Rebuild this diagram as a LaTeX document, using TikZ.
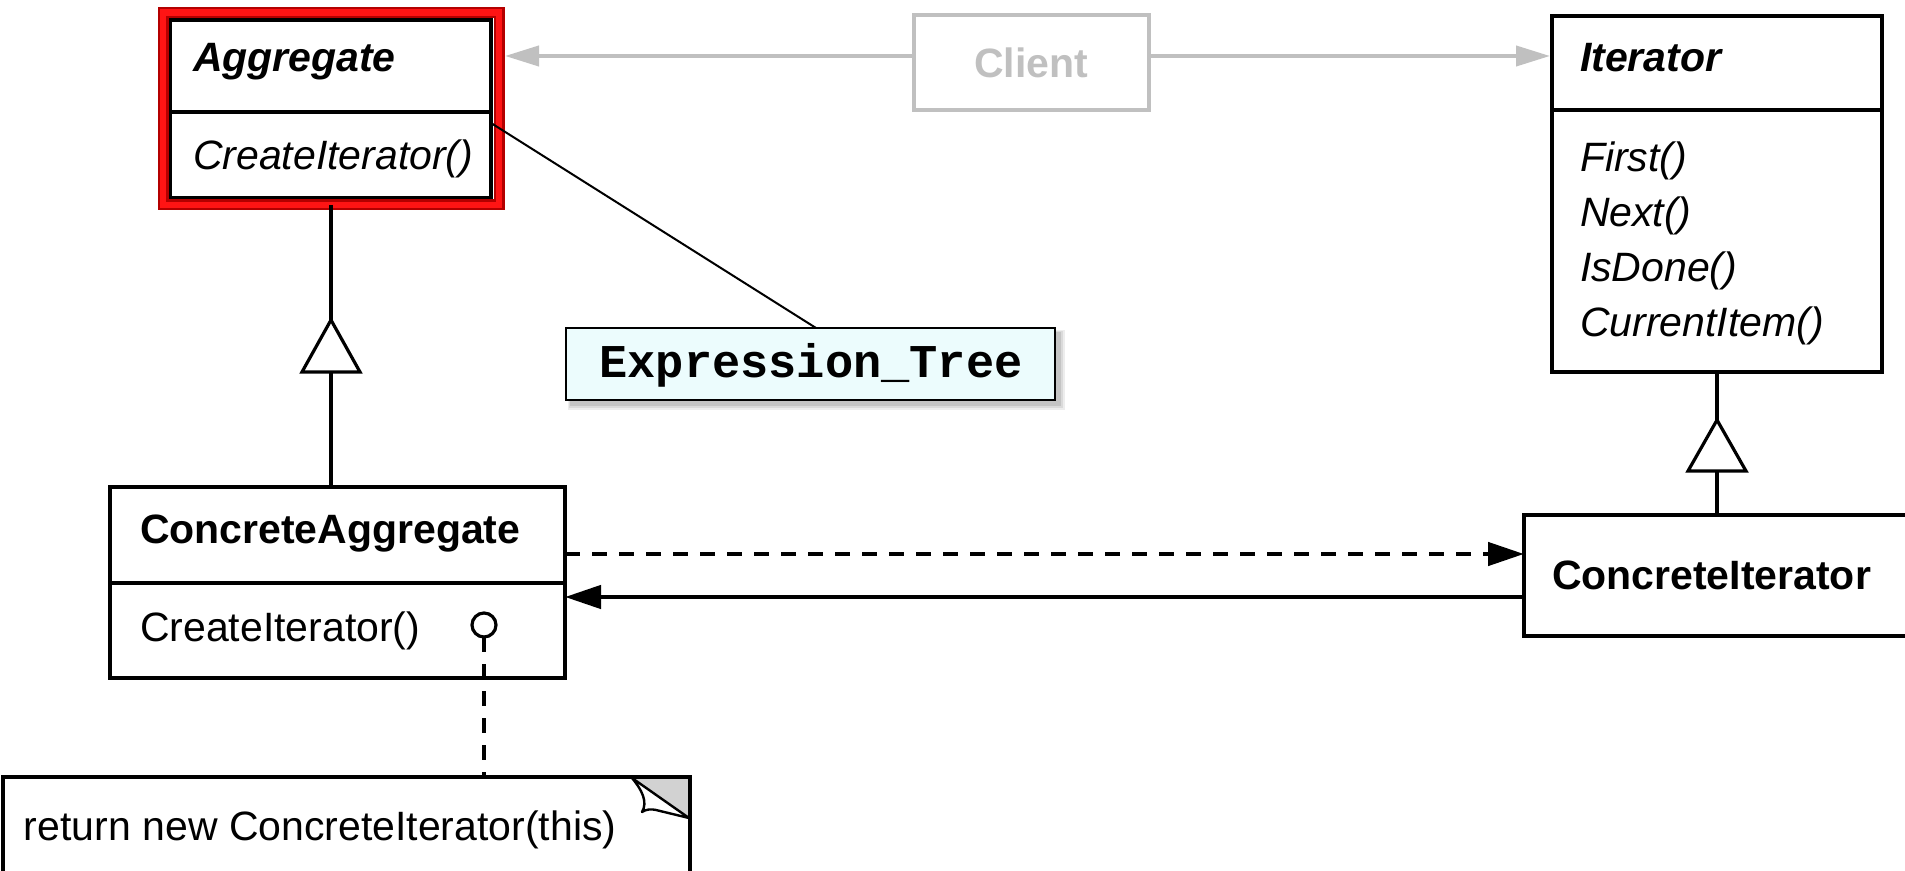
\documentclass[tikz,border=0pt]{standalone}
\usepackage{fontspec}
\setmainfont{Liberation Sans}
\newfontfamily\codefont{Liberation Mono}
\usetikzlibrary{arrows.meta}

\definecolor{clientgray}{RGB}{192,192,192}
\definecolor{notefill}{RGB}{236,252,253}
\definecolor{framered}{RGB}{255,20,20}
\definecolor{framedark}{RGB}{180,0,0}
\definecolor{foldgray}{RGB}{210,210,210}

\begin{document}
\begin{tikzpicture}[x=0.5pt,y=-0.5pt,
  every node/.style={inner sep=0pt,outer sep=0pt},
  classbox/.style={draw,rectangle,line width=2.3pt},
  divider/.style={line width=2.3pt},
  txt/.style={anchor=base west,font=\fontsize{20.5pt}{24pt}\selectfont},
  txtb/.style={anchor=base west,font=\fontsize{20.5pt}{24pt}\selectfont\bfseries},
  txti/.style={anchor=base west,font=\fontsize{20.5pt}{24pt}\selectfont\itshape},
  txtbi/.style={anchor=base west,font=\fontsize{20.5pt}{24pt}\selectfont\bfseries\itshape},
  genline/.style={line width=2.3pt},
  gentri/.style={line width=1.6pt,fill=white,line join=miter},
  grayarrow/.style={draw=clientgray,line width=2pt,-{Triangle[length=17pt,width=10pt]},clientgray},
  blackarrow/.style={line width=2.3pt,-{Triangle[length=18pt,width=11.5pt]}},
  dashline/.style={line width=2.3pt,dash pattern=on 7.5pt off 6pt},
]
\useasboundingbox (0,0) rectangle (1905,871);

% ---------- class boxes ----------
\node[classbox,minimum width=160.5pt,minimum height=89pt] (agg) at (330.5,109) {};
\draw[divider] (agg.west |- 0,112) -- (agg.east |- 0,112);
\node[txtbi] (aggname) at (193,72) {Aggregate};
\node[txti] (aggop) at (193,170) {CreateIterator()};

\node[classbox,minimum width=165pt,minimum height=178pt] (iter) at (1717,194) {};
\draw[divider] (iter.west |- 0,110) -- (iter.east |- 0,110);
\node[txtbi] (itername) at (1580,72) {Iterator};
\node[txti] (iterop1) at (1580,172) {First()};
\node[txti] (iterop2) at (1580,227) {Next()};
\node[txti] (iterop3) at (1580,282) {IsDone()};
\node[txti] (iterop4) at (1580,337) {CurrentItem()};

\node[classbox,minimum width=227.5pt,minimum height=95.5pt] (cagg) at (337.5,582.5) {};
\draw[divider] (cagg.west |- 0,583) -- (cagg.east |- 0,583);
\node[txtb] (caggname) at (140,543) {ConcreteAggregate};
\node[txt] (caggop) at (140,641) {CreateIterator()};

\node[classbox,minimum width=195.5pt,minimum height=60.5pt] (citer) at (1719.5,575.5) {};
\node[txtb] (citername) at (1552,589) {ConcreteIterator};

% ---------- client ----------
\node[draw=clientgray,line width=2pt,minimum width=117.5pt,minimum height=47.5pt,
      text=clientgray,font=\fontsize{20.5pt}{24pt}\selectfont\bfseries] (client) at (1031,63) {Client};

% ---------- highlight frame round Aggregate ----------
\node[draw=framedark,line width=5.5pt,minimum width=168pt,minimum height=96.25pt] (aggframe) at (331,108.75) {};
\draw[framered,line width=3.4pt] (aggframe.north west) rectangle (aggframe.south east);

% ---------- generalisation ----------
\draw[genline] (aggframe.south) -- (aggframe.south |- cagg.north);
\coordinate (t1) at (aggframe.south |- 0,320);
\draw[gentri] (t1) -- ++(29,52) -- ++(-58,0) -- cycle;

\draw[genline] (iter.south) -- (iter.south |- citer.north);
\coordinate (t2) at (iter.south |- 0,420);
\draw[gentri] (t2) -- ++(29,51) -- ++(-58,0) -- cycle;

% ---------- client associations ----------
\draw[grayarrow] ([yshift=3.5pt]client.west) -- ([xshift=3pt,yshift=3.5pt]client.west -| aggframe.east);
\draw[grayarrow] ([yshift=3.5pt]client.east) -- ([xshift=-1pt,yshift=3.5pt]client.east -| iter.west);

% ---------- concrete associations ----------
\draw[blackarrow,dash pattern=on 7.5pt off 6pt] (cagg.east |- 0,554) -- (citer.west |- 0,554);
\draw[blackarrow] (citer.west |- 0,597) -- (cagg.east |- 0,597);

% ---------- Expression_Tree label with soft shadow ----------
\coordinate (exprnw) at (566,328);
\coordinate (exprse) at (1055,400);
\fill[black,opacity=0.07] ([shift={(1pt,-1pt)}]exprnw) rectangle ([shift={(5pt,-5pt)}]exprse);
\fill[black,opacity=0.08] ([shift={(1.5pt,-1.5pt)}]exprnw) rectangle ([shift={(4pt,-4pt)}]exprse);
\fill[black,opacity=0.10] ([shift={(2pt,-2pt)}]exprnw) rectangle ([shift={(3pt,-3pt)}]exprse);
\node[draw,fill=notefill,line width=1.25pt,minimum width=244.5pt,minimum height=36pt] (exprt) at (810.5,364) {};
\node[anchor=base,font=\codefont\bfseries\fontsize{23.5pt}{26pt}\selectfont] (exprtext) at (811,378) {Expression\_Tree};
\draw[line width=1pt] ([xshift=2.75pt]exprt.north) -- (agg.east |- 0,123);

% ---------- implementation note ----------
\node[circle,draw,line width=1.6pt,minimum size=12pt] (lolli) at (484,625) {};
\node[draw,line width=2.3pt,minimum width=343.5pt,minimum height=64pt] (note) at (346.5,841) {};
\draw[dashline] (lolli.south) -- (lolli.south |- note.north);
\fill[foldgray] ([xshift=-29pt]note.north east) -- (note.north east) -- ([yshift=-20.5pt]note.north east) -- cycle;
\draw[line width=1.2pt,fill=white,line join=round]
  (632,778) .. controls (642,790) and (648,802) .. (642,812)
  .. controls (646,809) and (652,809) .. (656,810) -- (689,818) -- cycle;
\draw[line width=2.3pt] (note.north west) -- (note.north east) -- (note.south east);
\node[txt] (notetext) at (24,840) {return new ConcreteIterator(this)};
\end{tikzpicture}
\end{document}
